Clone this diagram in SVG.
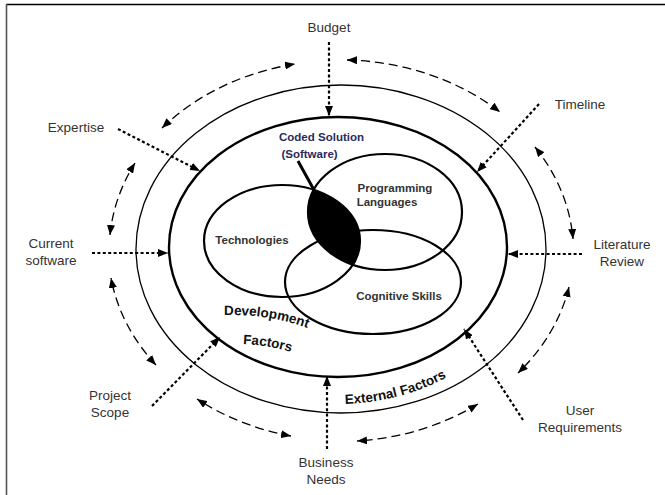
<svg xmlns="http://www.w3.org/2000/svg" width="665" height="495" viewBox="0 0 665 495">
<defs>
<style>
.lbl{font-family:"Liberation Sans",Arial,sans-serif;font-size:13.5px;fill:#333;text-anchor:middle}
.venn{font-family:"Liberation Sans",Arial,sans-serif;font-size:11.5px;font-weight:bold;fill:#333;text-anchor:middle}
.band{font-family:"Liberation Sans",Arial,sans-serif;font-size:13.5px;font-weight:bold;fill:#111}
.ring{fill:none;stroke:#000}
.dot{fill:none;stroke:#000;stroke-width:2.2;stroke-dasharray:3 2.4;marker-end:url(#ah)}
.dash{fill:none;stroke:#000;stroke-width:1.3;stroke-dasharray:9 5;marker-start:url(#ah);marker-end:url(#ah)}
</style>
<marker id="ah" viewBox="0 0 10 8" refX="10" refY="4" markerWidth="10" markerHeight="8" markerUnits="userSpaceOnUse" orient="auto-start-reverse">
<path d="M0,0 L10,4 L0,8 z" fill="#000"/>
</marker>
<clipPath id="plClip"><ellipse cx="385" cy="212" rx="77" ry="58"/></clipPath>
<path id="extPath" d="M 338 404 A 195 157 0 0 0 480 354.6"/>
<path id="devPath" d="M 224 315 Q 274 314 315 331"/>
<path id="facPath" d="M 243 344 Q 268 345 294 353"/>
</defs>
<rect x="0" y="0" width="665" height="495" fill="#fff"/>
<g id="frame">
<line x1="6" y1="4.5" x2="665" y2="4.5" stroke="#000" stroke-width="1.6"/>
<line x1="6.5" y1="4" x2="6.5" y2="495" stroke="#555" stroke-width="1.6"/>
</g>
<g id="outer-ring"><ellipse class="ring" cx="341" cy="249" rx="205" ry="164" stroke-width="1.3"/></g>
<g id="middle-ring"><ellipse class="ring" cx="338" cy="247" rx="169" ry="130" stroke-width="2.4"/></g>
<g id="coded-solution-lens"><ellipse cx="282" cy="241" rx="78" ry="56" fill="#000" clip-path="url(#plClip)"/></g>
<g id="technologies"><ellipse class="ring" cx="282" cy="241" rx="78" ry="56" stroke-width="2.2"/><text class="venn" x="252" y="244">Technologies</text></g>
<g id="programming-languages"><ellipse class="ring" cx="385" cy="212" rx="77" ry="58" stroke-width="2.2"/><text class="venn" x="395" y="192">Programming</text><text class="venn" x="387" y="206">Languages</text></g>
<g id="cognitive-skills"><ellipse class="ring" cx="373" cy="282" rx="88" ry="52" stroke-width="2.2"/><text class="venn" x="399" y="300">Cognitive Skills</text></g>
<g id="coded-solution">
<text class="venn" x="321.5" y="141" style="fill:#2a2a5c">Coded Solution</text>
<text class="venn" x="309.5" y="157.5" style="fill:#2a2a5c">(Software)</text>
<line x1="298" y1="161" x2="314" y2="190" stroke="#000" stroke-width="3"/>
</g>
<g id="development-factors">
<text class="band"><textPath href="#devPath">Development</textPath></text>
<text class="band"><textPath href="#facPath">Factors</textPath></text>
</g>
<g id="external-factors"><text class="band"><textPath href="#extPath" startOffset="7">External Factors</textPath></text></g>
<g id="budget"><text class="lbl" x="329" y="32">Budget</text></g>
<g id="timeline"><text class="lbl" x="580" y="109">Timeline</text></g>
<g id="expertise"><text class="lbl" x="76" y="132">Expertise</text></g>
<g id="current-software"><text class="lbl" x="51" y="248">Current</text><text class="lbl" x="51" y="265">software</text></g>
<g id="literature-review"><text class="lbl" x="622" y="249">Literature</text><text class="lbl" x="622" y="266">Review</text></g>
<g id="project-scope"><text class="lbl" x="110" y="400">Project</text><text class="lbl" x="110" y="417">Scope</text></g>
<g id="business-needs"><text class="lbl" x="326" y="467">Business</text><text class="lbl" x="326" y="484">Needs</text></g>
<g id="user-requirements"><text class="lbl" x="580" y="415">User</text><text class="lbl" x="580" y="432">Requirements</text></g>
<g id="connectors">
<line class="dot" x1="329" y1="42" x2="329" y2="116"/>
<line class="dot" x1="539" y1="104" x2="477" y2="172"/>
<line class="dot" x1="118" y1="129" x2="200" y2="171"/>
<line class="dot" x1="92" y1="253" x2="168" y2="253"/>
<line class="dot" x1="582" y1="254" x2="508" y2="254"/>
<line class="dot" x1="152" y1="406" x2="220" y2="337"/>
<line class="dot" x1="327" y1="449" x2="327" y2="376"/>
<line class="dot" x1="523" y1="420" x2="464" y2="329"/>
<path class="dash" d="M 162 128 A 233 191 0 0 1 295 64"/>
<path class="dash" d="M 347 60 A 233 191 0 0 1 500 112"/>
<path class="dash" d="M 535 147 A 233 191 0 0 1 573 239"/>
<path class="dash" d="M 569 287 A 233 191 0 0 1 518 373"/>
<path class="dash" d="M 478 404 A 233 191 0 0 1 357 441"/>
<path class="dash" d="M 291 436 A 233 191 0 0 1 197 399"/>
<path class="dash" d="M 156 365 A 233 191 0 0 1 111 278"/>
<path class="dash" d="M 110 235 A 233 191 0 0 1 135 163"/>
</g>
</svg>
